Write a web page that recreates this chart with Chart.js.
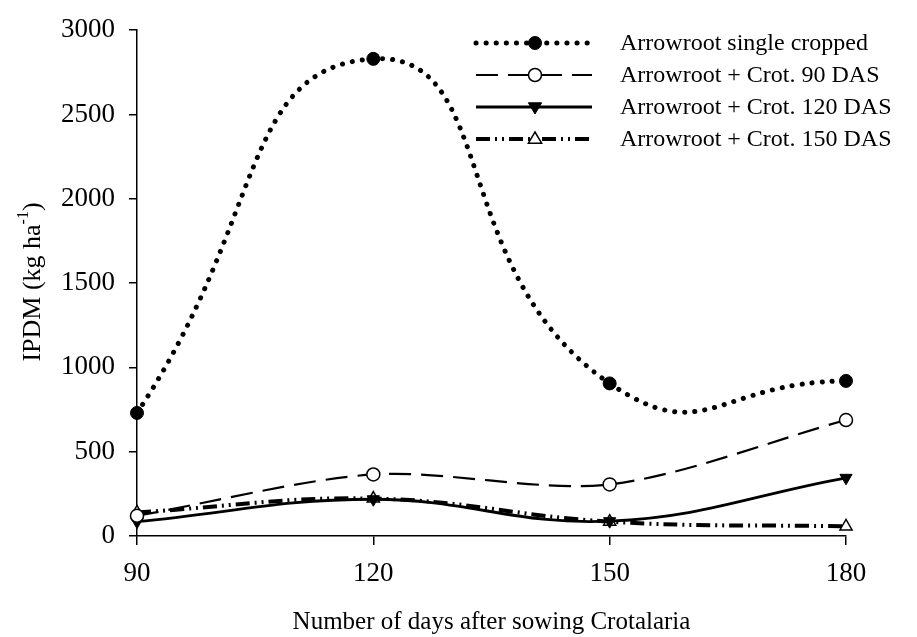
<!DOCTYPE html>
<html>
<head>
<meta charset="utf-8">
<script src="https://cdn.jsdelivr.net/npm/chart.js@4.4.1/dist/chart.umd.min.js"></script>
<style>
  html, body { margin: 0; padding: 0; background: #fff; }
  #wrap { width: 917px; height: 637px; position: relative; }
</style>
</head>
<body>
<div id="wrap"><canvas id="chart-ipdm"></canvas></div>
<script>
// days after sowing Crotalaria
const days = [90, 120, 150, 180];
// IPDM (kg/ha) per treatment
const singleCropped = [730, 2830, 905, 920];
const crot90 = [120, 365, 306, 688];
const crot120 = [85, 218, 88, 345];
const crot150 = [140, 222, 85, 57];

const seriesLabels = [
    'Arrowroot single cropped',
    'Arrowroot + Crot. 90 DAS',
    'Arrowroot + Crot. 120 DAS',
    'Arrowroot + Crot. 150 DAS'
];
const yTicks = [0, 500, 1000, 1500, 2000, 2500, 3000];

const FONT = '"Liberation Serif", "Times New Roman", serif';

function toPoints(vals) {
    return days.map((d, i) => ({ x: d, y: vals[i] }));
}

const datasets = [
    {
        label: seriesLabels[0],
        data: toPoints(singleCropped),
        tension: 0.55,
        borderColor: '#000',
        borderWidth: 5,
        borderDash: [0.1, 10],
        borderCapStyle: 'round',
        pointStyle: 'circle',
        pointRadius: 6.5,
        pointBackgroundColor: '#000',
        pointBorderColor: '#000',
        pointBorderWidth: 1
    },
    {
        label: seriesLabels[1],
        data: toPoints(crot90),
        tension: 0.3,
        borderColor: '#000',
        borderWidth: 2.2,
        borderDash: [22, 10],
        pointStyle: 'circle',
        pointRadius: 6.5,
        pointBackgroundColor: '#fff',
        pointBorderColor: '#000',
        pointBorderWidth: 1.5
    },
    {
        label: seriesLabels[2],
        data: toPoints(crot120),
        tension: 0.4,
        borderColor: '#000',
        borderWidth: 2.8,
        borderDash: [],
        pointStyle: 'triangle',
        pointRotation: 180,
        pointRadius: 7,
        pointBackgroundColor: '#000',
        pointBorderColor: '#000',
        pointBorderWidth: 1
    },
    {
        label: seriesLabels[3],
        data: toPoints(crot150),
        tension: 0.4,
        borderColor: '#000',
        borderWidth: 4,
        borderDash: [14, 5, 2, 5, 2, 5],
        pointStyle: 'triangle',
        pointRadius: 7,
        pointBackgroundColor: '#fff',
        pointBorderColor: '#000',
        pointBorderWidth: 1.5
    }
];
datasets.forEach(ds => {
    ds.fill = false;
    ds.clip = false;
});

// draws a marker like the chart's point styles
function drawMarker(ctx, ds, x, y) {
    ctx.save();
    ctx.setLineDash([]);
    ctx.fillStyle = ds.pointBackgroundColor;
    ctx.strokeStyle = ds.pointBorderColor;
    ctx.lineWidth = ds.pointBorderWidth;
    const r = ds.pointRadius;
    ctx.beginPath();
    if (ds.pointStyle === 'circle') {
        ctx.arc(x, y, r, 0, Math.PI * 2);
    } else {
        const down = ds.pointRotation === 180 ? -1 : 1;
        ctx.moveTo(x, y - down * r);
        ctx.lineTo(x + r * 0.95, y + down * r * 0.6);
        ctx.lineTo(x - r * 0.95, y + down * r * 0.6);
        ctx.closePath();
    }
    ctx.fill();
    ctx.stroke();
    ctx.restore();
}

const customLegend = {
    id: 'customLegend',
    afterDraw(chart) {
        const ctx = chart.ctx;
        const rowsY = [43, 75, 107, 139];
        chart.data.datasets.forEach((ds, i) => {
            const y = rowsY[i];
            ctx.save();
            ctx.strokeStyle = ds.borderColor;
            ctx.lineWidth = ds.borderWidth;
            ctx.setLineDash(ds.borderDash || []);
            ctx.lineCap = ds.borderCapStyle || 'butt';
            ctx.beginPath();
            ctx.moveTo(476, y);
            ctx.lineTo(592, y);
            ctx.stroke();
            ctx.restore();
            drawMarker(ctx, ds, 535, y);
            ctx.save();
            ctx.fillStyle = '#000';
            ctx.font = '24px ' + FONT;
            ctx.textBaseline = 'middle';
            ctx.fillText(ds.label, 620, y + 1);
            ctx.restore();
        });
    }
};

const yTitle = {
    id: 'yTitle',
    afterDraw(chart) {
        const ctx = chart.ctx;
        ctx.save();
        ctx.translate(33, 282);
        ctx.rotate(-Math.PI / 2);
        ctx.fillStyle = '#000';
        ctx.textBaseline = 'middle';
        const main = 'IPDM (kg ha';
        const sup = '-1';
        const close = ')';
        ctx.font = '26px ' + FONT;
        const w1 = ctx.measureText(main).width;
        const w3 = ctx.measureText(close).width;
        ctx.font = '16px ' + FONT;
        const w2 = ctx.measureText(sup).width;
        const total = w1 + w2 + w3;
        let x = -total / 2;
        ctx.font = '26px ' + FONT;
        ctx.fillText(main, x, 0);
        x += w1;
        ctx.font = '16px ' + FONT;
        ctx.fillText(sup, x, -9);
        x += w2;
        ctx.font = '26px ' + FONT;
        ctx.fillText(close, x, 0);
        ctx.restore();
    }
};

new Chart(document.getElementById('chart-ipdm').getContext('2d'), {
    type: 'line',
    data: { datasets },
    options: {
        responsive: true,
        maintainAspectRatio: false,
        animation: false,
        events: [],
        layout: { padding: { left: 0, right: 71, top: 27, bottom: 0 } },
        plugins: {
            legend: { display: false },
            tooltip: { enabled: false }
        },
        scales: {
            x: {
                type: 'linear',
                min: 90,
                max: 180,
                afterBuildTicks: s => { s.ticks = days.map(v => ({ value: v })); },
                afterFit: s => { s.height = 101; },
                grid: { drawOnChartArea: false, drawTicks: true, tickLength: 9, color: '#000', lineWidth: 1.5 },
                border: { display: true, color: '#000', width: 1.5 },
                ticks: { color: '#000', font: { family: FONT, size: 27 }, padding: 13, callback: v => String(v) },
                title: {
                    display: true,
                    text: 'Number of days after sowing Crotalaria',
                    color: '#000',
                    font: { family: FONT, size: 25 },
                    padding: { top: 13, bottom: 0 }
                }
            },
            y: {
                min: 0,
                max: 3000,
                afterBuildTicks: s => { s.ticks = yTicks.map(v => ({ value: v })); },
                afterFit: s => { s.width = 137; },
                grid: { drawOnChartArea: false, drawTicks: true, tickLength: 8, color: '#000', lineWidth: 1.5 },
                border: { display: true, color: '#000', width: 1.5 },
                ticks: { color: '#000', font: { family: FONT, size: 27 }, padding: 14, callback: v => String(v) }
            }
        }
    },
    plugins: [customLegend, yTitle]
});
</script>
</body>
</html>
